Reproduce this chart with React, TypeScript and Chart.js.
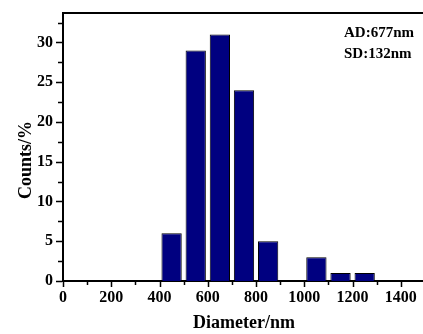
import React, { useEffect, useRef } from "react";
import { Chart, registerables } from "chart.js";

Chart.register(...registerables);

// Size distribution histogram (bin centres in nm, share of particles in %)
const binCenters = [450, 550, 650, 750, 850, 1050, 1150, 1250];
const counts = [6, 29, 31, 24, 5, 3, 1, 1];

const xMajorTicks = [0, 200, 400, 600, 800, 1000, 1200, 1400];
const xMinorTicks = [100, 300, 500, 700, 900, 1100, 1300, 1500];
const yMajorTicks = [0, 5, 10, 15, 20, 25, 30];
const yMinorTicks = [2.5, 7.5, 12.5, 17.5, 22.5, 27.5, 32.5];

const statLines = ["AD:677nm", "SD:132nm"];

const FONT = "'Liberation Serif', 'Times New Roman', serif";

// Frame, tick marks, axis title and statistics text drawn on top of the chart
const framePlugin = {
  id: "originFrame",
  afterDraw(chart: any) {
    const { ctx, chartArea, scales } = chart;
    const xs = scales.x;
    const ys = scales.y;
    ctx.save();
    ctx.strokeStyle = "#000";

    // top and right border of the frame
    ctx.lineWidth = 2;
    ctx.beginPath();
    ctx.moveTo(chartArea.left - 1, chartArea.top);
    ctx.lineTo(chartArea.right, chartArea.top);
    ctx.lineTo(chartArea.right, chartArea.bottom);
    ctx.stroke();

    // outward tick marks
    ctx.lineWidth = 1.5;
    const bottom = chartArea.bottom + 1;
    const left = chartArea.left - 1;
    ctx.beginPath();
    xMajorTicks.forEach((v) => {
      const px = Math.round(xs.getPixelForValue(v)) + 0.5;
      ctx.moveTo(px, bottom);
      ctx.lineTo(px, bottom + 5);
    });
    xMinorTicks.forEach((v) => {
      const px = Math.round(xs.getPixelForValue(v)) + 0.5;
      ctx.moveTo(px, bottom);
      ctx.lineTo(px, bottom + 3);
    });
    yMajorTicks.forEach((v) => {
      const py = Math.round(ys.getPixelForValue(v)) + 0.5;
      ctx.moveTo(left, py);
      ctx.lineTo(left - 6, py);
    });
    yMinorTicks.forEach((v) => {
      const py = Math.round(ys.getPixelForValue(v)) + 0.5;
      ctx.moveTo(left, py);
      ctx.lineTo(left - 4, py);
    });
    ctx.stroke();

    ctx.fillStyle = "#000";

    // y axis title
    ctx.font = `bold 18px ${FONT}`;
    ctx.textAlign = "center";
    ctx.textBaseline = "alphabetic";
    ctx.translate(31, 160);
    ctx.rotate(-Math.PI / 2);
    ctx.fillText("Counts/%", 0, 0);
    ctx.setTransform(1, 0, 0, 1, 0, 0);

    // statistics
    ctx.font = `bold 15px ${FONT}`;
    ctx.textAlign = "left";
    ctx.fillText(statLines[0], 344, 37);
    ctx.fillText(statLines[1], 344, 58);
    ctx.restore();
  },
};

export default function App() {
  const canvasRef = useRef<HTMLCanvasElement | null>(null);

  useEffect(() => {
    if (!canvasRef.current) return;
    const chart = new Chart(canvasRef.current, {
      type: "bar",
      data: {
        datasets: [
          {
            data: binCenters.map((x, i) => ({ x, y: counts[i] })),
            backgroundColor: "#000080",
            borderColor: "#000000",
            borderWidth: 1,
            barPercentage: 0.84,
            categoryPercentage: 1,
          },
        ],
      },
      options: {
        animation: false,
        responsive: false,
        devicePixelRatio: 1,
        layout: { padding: { left: 0, top: 13, right: 5, bottom: 0 } },
        plugins: {
          legend: { display: false },
          tooltip: { enabled: false },
        },
        scales: {
          x: {
            type: "linear",
            offset: false,
            min: 0,
            max: 1500,
            afterFit: (scale: any) => {
              scale.height = 53;
              scale.paddingLeft = 0;
              scale.paddingRight = 0;
            },
            grid: { display: false, drawTicks: false },
            border: { display: true, color: "#000", width: 2 },
            ticks: {
              stepSize: 200,
              includeBounds: false,
              autoSkip: false,
              maxRotation: 0,
              padding: 7,
              color: "#000",
              font: { family: FONT, size: 16, weight: "bold" },
              callback: (v: any) => String(v),
            },
            title: {
              display: true,
              text: "Diameter/nm",
              color: "#000",
              padding: { top: 0, bottom: 0 },
              font: { family: FONT, size: 18, weight: "bold" },
            },
          },
          y: {
            min: 0,
            max: 33.7,
            afterFit: (scale: any) => {
              scale.width = 63;
              scale.paddingTop = 0;
              scale.paddingBottom = 0;
            },
            grid: { display: false, drawTicks: false },
            border: { display: true, color: "#000", width: 2 },
            ticks: {
              stepSize: 5,
              includeBounds: false,
              padding: 10,
              color: "#000",
              font: { family: FONT, size: 16, weight: "bold" },
              callback: (v: any) => String(v),
            },
          },
        },
      },
      plugins: [framePlugin],
    });
    return () => chart.destroy();
  }, []);

  return (
    <div
      style={{
        position: "fixed",
        left: 0,
        top: 0,
        width: 423,
        height: 334,
        overflow: "hidden",
        background: "#fff",
      }}
    >
      <canvas ref={canvasRef} width={430} height={334} style={{ display: "block" }} />
    </div>
  );
}
